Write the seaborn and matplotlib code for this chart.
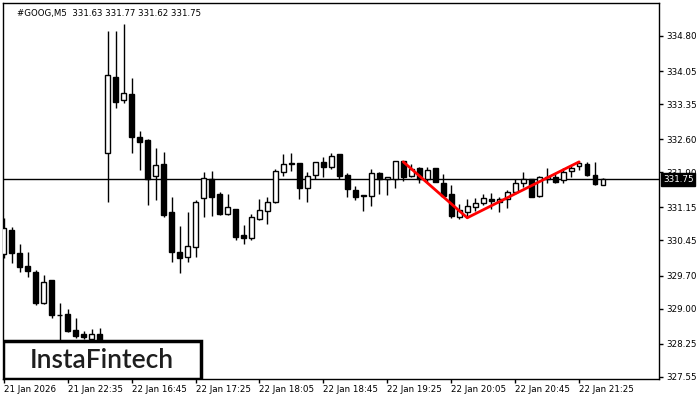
import numpy as np
import pandas as pd
import matplotlib
matplotlib.use("Agg")
import matplotlib.pyplot as plt
from matplotlib.patches import Rectangle
import seaborn as sns

# candle values (5-minute bars)
opens = [330.16, 330.67, 330.18, 329.91, 329.78, 329.12, 329.61, 328.86, 328.88, 328.54,
         328.46, 328.35, 328.46, 332.31, 333.93, 333.44, 333.57, 332.65, 332.59, 331.82,
         332.08, 331.05, 330.20, 330.10, 330.31, 331.35, 331.76, 331.44, 331.01, 331.12,
         330.57, 330.50, 330.91, 331.08, 331.27, 331.91, 332.10, 332.10, 331.57, 331.84,
         332.12, 332.01, 332.29, 331.84, 331.52, 331.40, 331.40, 331.88, 331.76, 331.76,
         332.14, 331.82, 331.99, 331.76, 331.99, 331.67, 331.44, 330.95, 331.05, 331.16,
         331.25, 331.33, 331.27, 331.33, 331.48, 331.67, 331.76, 331.40, 331.76, 331.80,
         331.74, 331.93, 332.03, 332.08, 331.84, 331.63]
highs = [330.93, 330.74, 330.37, 330.20, 329.82, 329.71, 329.61, 329.12, 328.99, 328.80,
         328.52, 328.57, 328.59, 334.91, 334.91, 335.06, 333.91, 332.78, 332.61, 332.42,
         332.33, 331.37, 330.76, 331.05, 331.31, 331.91, 331.93, 331.48, 331.44, 331.12,
         330.78, 331.01, 331.33, 331.37, 331.97, 332.29, 332.31, 332.10, 331.91, 332.12,
         332.22, 332.31, 332.29, 331.88, 331.61, 331.42, 331.97, 331.91, 331.80, 332.14,
         332.14, 332.08, 332.01, 332.01, 331.99, 331.86, 331.63, 331.23, 331.33, 331.35,
         331.44, 331.46, 331.37, 331.52, 331.76, 331.91, 331.76, 331.82, 331.99, 331.88,
         331.99, 332.05, 332.12, 332.12, 332.12, 331.77]
lows = [330.08, 329.97, 329.78, 329.67, 329.08, 329.10, 328.80, 328.30, 328.50, 328.37,
        328.35, 328.30, 328.28, 331.27, 333.27, 333.37, 332.31, 331.95, 331.20, 331.31,
        330.95, 329.99, 329.76, 329.99, 330.10, 330.95, 330.97, 330.99, 330.99, 330.46,
        330.37, 330.46, 330.88, 330.80, 331.25, 331.82, 331.93, 331.33, 331.27, 331.76,
        331.80, 331.97, 331.76, 331.37, 331.31, 331.08, 331.18, 331.44, 331.42, 331.57,
        331.71, 331.80, 331.67, 331.69, 331.69, 331.37, 330.93, 330.91, 330.93, 331.08,
        331.20, 331.12, 331.05, 331.14, 331.44, 331.59, 331.37, 331.37, 331.67, 331.67,
        331.67, 331.80, 331.95, 331.82, 331.63, 331.62]
closes = [330.71, 330.18, 329.88, 329.80, 329.12, 329.57, 328.86, 328.87, 328.52, 328.42,
          328.40, 328.46, 328.33, 333.97, 333.40, 333.59, 332.65, 332.54, 331.76, 332.05,
          330.99, 330.20, 330.08, 330.33, 331.27, 331.78, 331.37, 331.01, 331.16, 330.52,
          330.50, 330.95, 331.10, 331.27, 331.93, 332.08, 332.08, 331.57, 331.82, 332.12,
          332.01, 332.25, 331.82, 331.54, 331.37, 331.41, 331.88, 331.76, 331.80, 332.14,
          331.80, 331.97, 331.76, 331.95, 331.69, 331.40, 330.97, 331.10, 331.18, 331.25,
          331.35, 331.29, 331.33, 331.48, 331.67, 331.76, 331.37, 331.80, 331.80, 331.69,
          331.91, 331.99, 332.10, 331.84, 331.65, 331.75]

# double bottom pattern line (bar index, price)
pattern_bars = [50, 58, 72]
pattern_prices = [332.12, 330.93, 332.12]

time_labels = ["21 Jan 2026", "21 Jan 22:35", "22 Jan 16:45", "22 Jan 17:25", "22 Jan 18:05",
               "22 Jan 18:45", "22 Jan 19:25", "22 Jan 20:05", "22 Jan 20:45", "22 Jan 21:25"]
price_ticks = [327.55, 328.25, 329.00, 329.70, 330.45, 331.15, 331.90,
               332.60, 333.35, 334.05, 334.80]
last_price = 331.75

df = pd.DataFrame({"open": opens, "high": highs, "low": lows, "close": closes})
df["bar"] = np.arange(len(df))
df["up"] = df["close"] >= df["open"]

sns.set_theme(style="white")
plt.rcParams["font.family"] = ["DejaVu Sans"]

fig = plt.figure(figsize=(7, 4), dpi=100)
ax = fig.add_axes([3 / 700, 1 - 379 / 400, 656 / 700, 376 / 400])

# wicks
ax.vlines(df["bar"], df["low"], df["high"], color="black", linewidth=1, zorder=2)
# bodies
bottoms = df[["open", "close"]].min(axis=1)
heights = (df["close"] - df["open"]).abs().clip(lower=0.004)
colors = np.where(df["up"], "white", "black")
ax.bar(df["bar"], heights, bottom=bottoms, width=0.6, color=colors,
       edgecolor="black", linewidth=1, zorder=3)

# current price line
ax.axhline(last_price, color="black", linewidth=1, zorder=1)

# pattern
pat = pd.DataFrame({"bar": pattern_bars, "price": pattern_prices})
sns.lineplot(data=pat, x="bar", y="price", color="red", linewidth=2, ax=ax, zorder=4)

ax.set_xlim(-0.1, 82)
ax.set_ylim(327.50, 335.50)
ax.set_xlabel("")
ax.set_ylabel("")

ax.set_xticks(np.arange(0, 8 * len(time_labels), 8))
ax.set_xticklabels(time_labels, ha="left", fontsize=6.3)
ax.yaxis.tick_right()
ax.set_yticks(price_ticks)
ax.set_yticklabels([f"{v:.2f}" for v in price_ticks], fontsize=6.3)
ax.tick_params(axis="both", direction="out", length=3, width=1, color="black",
               labelcolor="black", pad=2)
ax.tick_params(axis="x", pad=1)
ax.tick_params(axis="y", right=True, left=False)
ax.tick_params(axis="x", bottom=True)
for s in ax.spines.values():
    s.set_color("black")
    s.set_linewidth(1)

# header text
ax.text(0.022, 0.985, "#GOOG,M5  331.63 331.77 331.62 331.75", transform=ax.transAxes,
        fontsize=6.2, va="top", ha="left", color="black")

# current price tag
ax.text(1.006, last_price, "331.75", transform=ax.get_yaxis_transform(), fontsize=6.3,
        color="white", va="center", ha="left", clip_on=False, zorder=10,
        bbox=dict(boxstyle="square,pad=0.2", facecolor="black", edgecolor="black"))

# logo box
ax.add_patch(Rectangle((0, 0), 198 / 656, 38 / 376, transform=ax.transAxes,
                       facecolor="white", edgecolor="black", linewidth=2.5, zorder=8))
ax.text(99 / 656, 19 / 376, "InstaFintech", transform=ax.transAxes, fontsize=19,
        family=["Lato", "DejaVu Sans"], fontweight="semibold", color="#1e1e1e",
        ha="center", va="center", zorder=9)

fig.savefig("out.png", dpi=100, facecolor="white")
